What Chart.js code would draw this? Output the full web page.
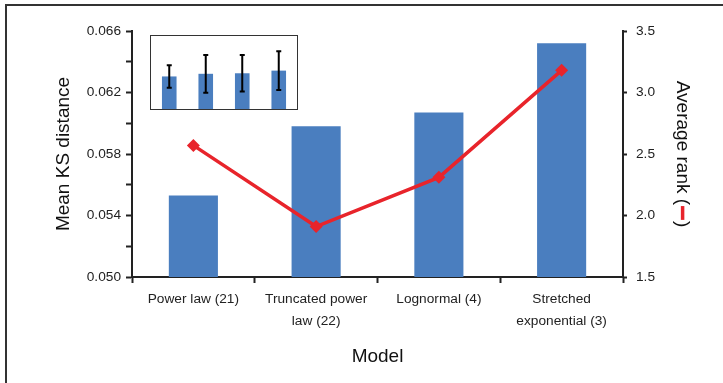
<!DOCTYPE html>
<html>
<head>
<meta charset="utf-8">
<script src="https://cdn.jsdelivr.net/npm/chart.js@4/dist/chart.umd.min.js"></script>
<style>
  html, body { margin: 0; padding: 0; background: #fff; }
  #wrap { position: relative; width: 723px; height: 383px; }
  #frame { position: absolute; left: 5px; top: 4px; right: 0; bottom: 0;
           border-top: 2px solid #333; border-left: 2px solid #333; }
  #inset { position: absolute; left: 150px; top: 35px; width: 146px; height: 73px;
           border: 1px solid #333; background: #fff; }
</style>
</head>
<body>
<div id="wrap">
  <div id="frame"></div>
  <canvas id="mainChart" width="723" height="383" style="position:absolute;left:0;top:0"></canvas>
  <div id="inset"><canvas id="insetChart" width="146" height="73"></canvas></div>
</div>
<script>
// Chart data
const categories = [['Power law (21)'], ['Truncated power', 'law (22)'], ['Lognormal (4)'], ['Stretched', 'exponential (3)']];
const meanKS = [0.0553, 0.0598, 0.0607, 0.0652];
const avgRank = [2.57, 1.91, 2.31, 3.18];
const ksErr = [0.019, 0.032, 0.031, 0.033];

const barBlue = '#4a7ebf';
const lineRed = '#e8242b';
const fontFamily = '"Liberation Sans", Arial, sans-serif';

// red line glyph inside the right axis title
const rankGlyph = {
    id: 'rankGlyph',
    afterDraw(chart) {
        const scale = chart.scales.y1;
        const title = scale.options.title;
        const ctx = chart.ctx;
        const font = title.font.size + 'px ' + fontFamily;
        ctx.save();
        ctx.font = font;
        const full = ctx.measureText(title.text).width;
        const pre = ctx.measureText('Average rank (').width;
        const gap = ctx.measureText('   ').width;
        const cy = (chart.chartArea.top + chart.chartArea.bottom) / 2;
        const x = scale.right - title.padding.top - title.font.size * 1.2 / 2;
        const y0 = cy - full / 2 + pre + 1;
        ctx.strokeStyle = lineRed;
        ctx.lineWidth = 3.5;
        ctx.beginPath();
        ctx.moveTo(x, y0);
        ctx.lineTo(x, y0 + gap - 2);
        ctx.stroke();
        ctx.restore();
    }
};

document.addEventListener("DOMContentLoaded", function() {
    new Chart(document.getElementById('mainChart'), {
        data: {
            labels: categories,
            datasets: [{
                type: 'line',
                data: avgRank,
                yAxisID: 'y1',
                borderColor: lineRed,
                backgroundColor: lineRed,
                borderWidth: 3.5,
                pointStyle: 'rectRot',
                pointRadius: 6.5,
                pointBorderWidth: 0,
                tension: 0,
                order: 0
            }, {
                type: 'bar',
                data: meanKS,
                yAxisID: 'y',
                backgroundColor: barBlue,
                categoryPercentage: 1,
                barPercentage: 0.4,
                order: 1
            }]
        },
        options: {
            responsive: false,
            animation: false,
            layout: { padding: { top: 31, left: 0, right: 0, bottom: 0 } },
            plugins: { legend: { display: false }, tooltip: { enabled: false } },
            scales: {
                x: {
                    grid: { drawOnChartArea: false, tickLength: 6, tickColor: '#222', tickWidth: 2 },
                    border: { color: '#222', width: 2 },
                    ticks: { color: '#222', font: { family: fontFamily, size: 13.7, lineHeight: 1.55 }, padding: 6, maxRotation: 0 },
                    title: { display: true, text: 'Model', color: '#111',
                             font: { family: fontFamily, size: 19 }, padding: { top: 0, bottom: 15 } },
                    afterFit(s) { s.height = 106; }
                },
                y: {
                    position: 'left',
                    min: 0.050, max: 0.066,
                    grid: { drawOnChartArea: false, tickLength: 6, tickColor: '#222', tickWidth: 2 },
                    border: { color: '#222', width: 2 },
                    ticks: {
                        stepSize: 0.002, color: '#222', padding: 5,
                        font: { family: fontFamily, size: 13.7 },
                        callback: (v, i) => (i % 2 ? '' : v.toFixed(3))
                    },
                    title: { display: true, text: 'Mean KS distance', color: '#111',
                             font: { family: fontFamily, size: 19 }, padding: { top: 52, bottom: 0 } },
                    afterFit(s) { s.width = 132; }
                },
                y1: {
                    position: 'right',
                    min: 1.5, max: 3.5,
                    grid: { drawOnChartArea: false, tickLength: 4, tickColor: '#222', tickWidth: 2 },
                    border: { color: '#222', width: 2 },
                    ticks: {
                        stepSize: 0.5, color: '#222', padding: 9,
                        font: { family: fontFamily, size: 13.7 },
                        callback: v => v.toFixed(1)
                    },
                    title: { display: true, text: 'Average rank (   )', color: '#111',
                             font: { family: fontFamily, size: 19 }, padding: { top: 29, bottom: 0 } },
                    afterFit(s) { s.width = 100; }
                }
            }
        },
        plugins: [rankGlyph]
    });

    // inset: same values from zero with error bars
    const errorBars = {
        id: 'errorBars',
        afterDatasetsDraw(chart) {
            const ctx = chart.ctx;
            const meta = chart.getDatasetMeta(0);
            const ys = chart.scales.y;
            ctx.save();
            ctx.strokeStyle = '#000';
            ctx.lineWidth = 2;
            meta.data.forEach((bar, i) => {
                const top = ys.getPixelForValue(meanKS[i] + ksErr[i]);
                const bot = ys.getPixelForValue(meanKS[i] - ksErr[i]);
                ctx.beginPath();
                ctx.moveTo(bar.x, top); ctx.lineTo(bar.x, bot);
                ctx.moveTo(bar.x - 2.5, top); ctx.lineTo(bar.x + 2.5, top);
                ctx.moveTo(bar.x - 2.5, bot); ctx.lineTo(bar.x + 2.5, bot);
                ctx.stroke();
            });
            ctx.restore();
        }
    };

    new Chart(document.getElementById('insetChart'), {
        type: 'bar',
        data: {
            labels: categories,
            datasets: [{
                data: meanKS,
                backgroundColor: barBlue,
                categoryPercentage: 1,
                barPercentage: 0.4
            }]
        },
        options: {
            responsive: false,
            animation: false,
            layout: { padding: 0 },
            plugins: { legend: { display: false }, tooltip: { enabled: false } },
            scales: {
                x: { display: false },
                y: { display: false, min: 0, max: 0.124 }
            }
        },
        plugins: [errorBars]
    });
});
</script>
</body>
</html>
